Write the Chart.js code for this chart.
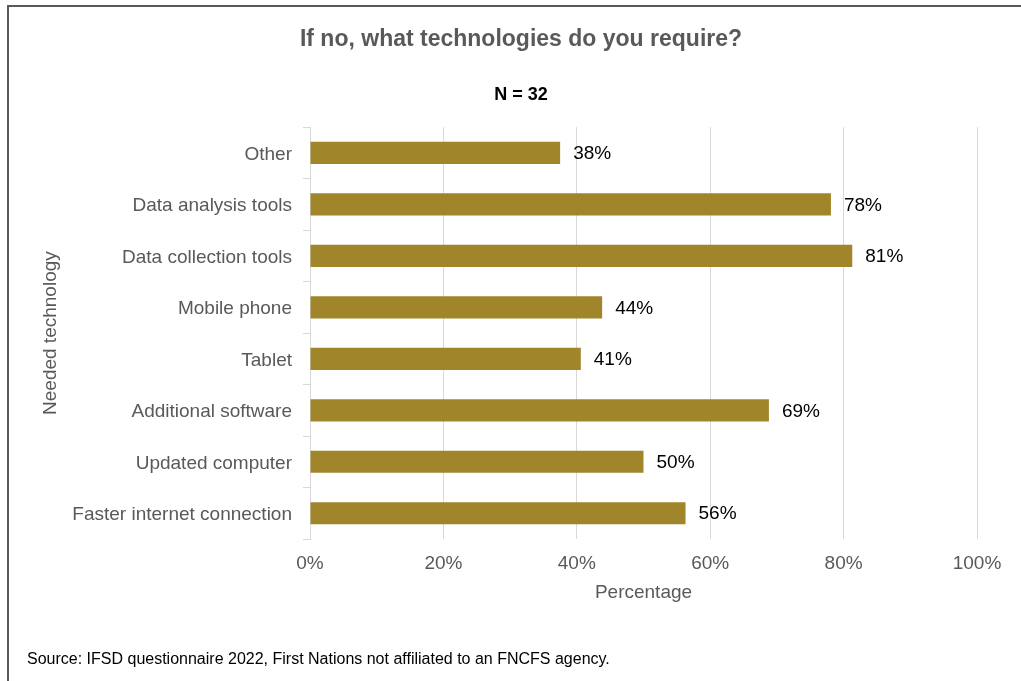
<!DOCTYPE html>
<html>
<head>
<meta charset="utf-8">
<title>If no, what technologies do you require?</title>
<script src="https://cdn.jsdelivr.net/npm/chart.js@4/dist/chart.umd.min.js"></script>
<style>
  body { margin: 0; background: #fff; overflow: hidden; }
  #wrap { position: relative; width: 1021px; height: 681px; }
  #frame {
    position: absolute; left: 7px; top: 5px; width: 1100px; height: 760px;
    border-left: 2px solid #595959; border-top: 2px solid #595959;
  }
  #source {
    position: absolute; left: 27px; top: 650px;
    font-family: "Liberation Sans", Arial, sans-serif; font-size: 16px; color: #000;
  }
  canvas { position: absolute; left: 0; top: 0; }
</style>
</head>
<body>
<div id="wrap">
  <div id="frame"></div>
  <canvas id="chart" width="1021" height="681"></canvas>
  <div id="source">Source: IFSD questionnaire 2022, First Nations not affiliated to an FNCFS agency.</div>
</div>
<script>
// chart data
const categories = [
  "Other",
  "Data analysis tools",
  "Data collection tools",
  "Mobile phone",
  "Tablet",
  "Additional software",
  "Updated computer",
  "Faster internet connection"
];
const percentages = [37.5, 78.1, 81.3, 43.8, 40.6, 68.8, 50, 56.3];
const xTicks = [0, 20, 40, 60, 80, 100];

const FONT = "'Liberation Sans', Arial, sans-serif";
const GREY = "#595959";
const LINE = "#d9d9d9";

// draws the "38%" style labels right of each bar
const barValueLabels = {
  id: "barValueLabels",
  afterDatasetsDraw(chart) {
    const ctx = chart.ctx;
    const meta = chart.getDatasetMeta(0);
    ctx.save();
    ctx.font = "19px " + FONT;
    ctx.fillStyle = "#000";
    ctx.textAlign = "left";
    ctx.textBaseline = "middle";
    meta.data.forEach((bar, i) => {
      ctx.fillText(Math.round(percentages[i]) + "%", bar.x + 13, bar.y + 1);
    });
    ctx.restore();
  }
};

const ctx = document.getElementById("chart").getContext("2d");
new Chart(ctx, {
  type: "bar",
  data: {
    labels: categories,
    datasets: [{
      data: percentages,
      backgroundColor: "#a0852b",
      borderWidth: 0,
      categoryPercentage: 0.86,
      barPercentage: 0.5
    }]
  },
  options: {
    indexAxis: "y",
    responsive: false,
    animation: false,
    layout: { padding: { left: 21, right: 0, top: 0, bottom: 72 } },
    plugins: {
      legend: { display: false },
      tooltip: { enabled: false },
      title: {
        display: true,
        text: "If no, what technologies do you require?",
        color: GREY,
        font: { family: FONT, size: 23, weight: "bold" },
        padding: { top: 26, bottom: 31 }
      },
      subtitle: {
        display: true,
        text: "N = 32",
        color: "#000",
        font: { family: FONT, size: 18, weight: "bold" },
        padding: { top: 0, bottom: 21 }
      }
    },
    scales: {
      x: {
        min: 0,
        max: 100,
        afterBuildTicks: (scale) => {
          scale.ticks = xTicks.map(v => ({ value: v }));
        },
        afterFit: (scale) => {
          scale.height = 70;
          scale.paddingRight = 44;
        },
        ticks: {
          color: GREY,
          font: { family: FONT, size: 19 },
          padding: 13,
          callback: (v) => v + "%"
        },
        grid: { color: LINE, drawTicks: false },
        border: { display: false },
        title: {
          display: true,
          text: "Percentage",
          color: GREY,
          font: { family: FONT, size: 19 },
          padding: { top: 0, bottom: 5 }
        }
      },
      y: {
        afterFit: (scale) => { scale.width = 289; },
        ticks: {
          color: GREY,
          font: { family: FONT, size: 19 },
          padding: 11,
          labelOffset: 1.5
        },
        grid: { color: LINE, drawOnChartArea: false, tickLength: 7, offset: true },
        border: { color: LINE },
        title: {
          display: true,
          text: "Needed technology",
          color: GREY,
          font: { family: FONT, size: 19 },
          padding: { top: 18 }
        }
      }
    }
  },
  plugins: [barValueLabels]
});
</script>
</body>
</html>
